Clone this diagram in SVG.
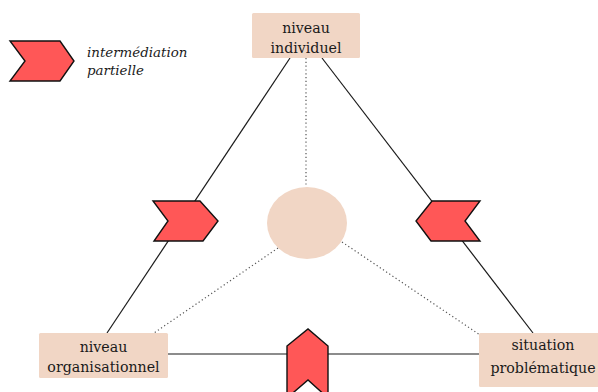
<svg xmlns="http://www.w3.org/2000/svg" width="598" height="392" viewBox="0 0 598 392">
  <style>
    .box { fill: #f1d6c5; }
    .lbl { font-family: "DejaVu Serif", "Liberation Serif", serif; font-size: 14.2px; fill: #1a1a1a; text-anchor: middle; }
    .leg { font-family: "DejaVu Serif", "Liberation Serif", serif; font-size: 13.4px; font-style: italic; fill: #1a1a1a; }
    .edge { stroke: #1a1a1a; stroke-width: 1.2; fill: none; }
    .dot { stroke: #555; stroke-width: 1.2; stroke-dasharray: 1.2 2.6; fill: none; }
    .chev { fill: #ff5757; stroke: #111; stroke-width: 1.4; stroke-linejoin: miter; }
  </style>

  <!-- connectors -->
  <g id="connectors">
    <line class="edge" x1="290" y1="58" x2="107" y2="333"/>
    <line class="edge" x1="322" y1="58" x2="533" y2="333"/>
    <line class="edge" x1="168" y1="354" x2="479" y2="354" stroke="#333"/>
    <line class="dot" x1="306" y1="58" x2="306" y2="187"/>
    <line class="dot" x1="278" y1="248" x2="154" y2="333"/>
    <line class="dot" x1="342" y1="242" x2="480" y2="335"/>
  </g>

  <!-- centre -->
  <g id="centre">
    <ellipse class="box" cx="307" cy="223" rx="40" ry="36"/>
  </g>

  <!-- nodes -->
  <g id="node-individuel">
    <rect class="box" x="252" y="13" width="108" height="45" rx="1.5"/>
    <text class="lbl" x="306" y="33">niveau</text>
    <text class="lbl" x="306" y="53">individuel</text>
  </g>
  <g id="node-organisationnel">
    <rect class="box" x="39" y="333" width="129" height="45" rx="1.5"/>
    <text class="lbl" x="103.5" y="352">niveau</text>
    <text class="lbl" x="103.5" y="372">organisationnel</text>
  </g>
  <g id="node-situation">
    <rect class="box" x="479" y="333" width="128" height="54" rx="1.5"/>
    <text class="lbl" x="543" y="350">situation</text>
    <text class="lbl" x="543" y="373">problématique</text>
  </g>

  <!-- partial intermediation markers -->
  <g id="marker-left">
    <polygon class="chev" points="153,201 200,201 218,221 203,241 154,241 168,221"/>
  </g>
  <g id="marker-right">
    <polygon class="chev" points="480,201 432,201 416,221 431,241 480,241 465,221"/>
  </g>
  <g id="marker-bottom">
    <polygon class="chev" points="287,346 308,329 328,346 328,398 308,380 287,398"/>
  </g>

  <!-- legend -->
  <g id="legend">
    <polygon class="chev" points="10,41 60,41 74,61 60,81 10,81 25,61"/>
    <text class="leg" x="87" y="57">intermédiation</text>
    <text class="leg" x="87" y="75">partielle</text>
  </g>
</svg>
